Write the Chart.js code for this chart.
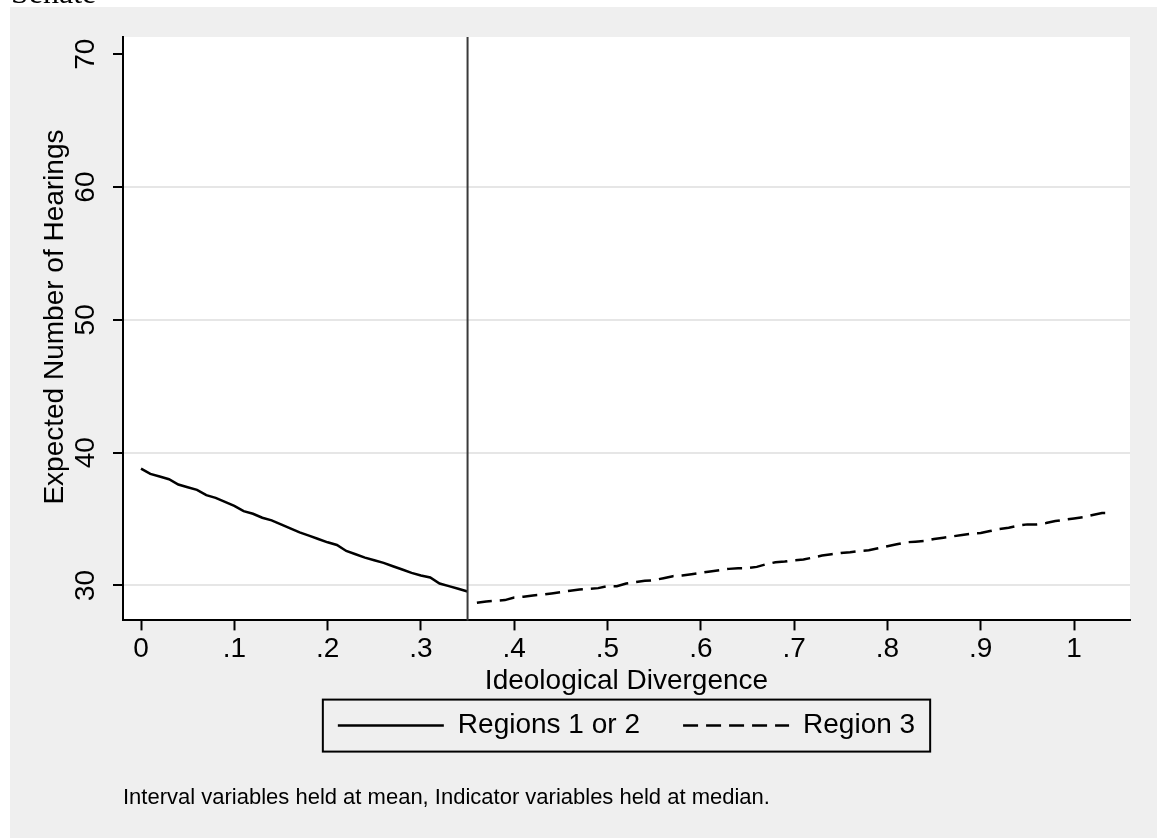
<!DOCTYPE html>
<html>
<head>
<meta charset="utf-8">
<script src="https://cdn.jsdelivr.net/npm/chart.js@4.4.0/dist/chart.umd.min.js"></script>
<style>
  html, body { margin: 0; padding: 0; background: #fff; }
  canvas { display: block; }
</style>
</head>
<body>
<canvas id="myChart" width="1157" height="838"></canvas>
<script>
// values
const seriesNames = ['Regions 1 or 2', 'Region 3'];
const xSolid = [0, .01, .02, .03, .04, .05, .06, .07, .08, .09, .10, .11, .12, .13, .14, .15, .16, .17,
  .18, .19, .20, .21, .22, .23, .24, .25, .26, .27, .28, .29, .30, .31, .32, .33, .34, .35];
const ySolid = [38.8, 38.4, 38.2, 38.0, 37.6, 37.4, 37.2, 36.8, 36.6, 36.3, 36.0, 35.6, 35.4, 35.1, 34.9, 34.6, 34.3, 34.0,
  33.75, 33.5, 33.25, 33.05, 32.6, 32.35, 32.1, 31.9, 31.7, 31.45, 31.2, 30.95, 30.75, 30.6, 30.15, 29.95, 29.75, 29.55];
const xDash = [.36, .37, .38, .39, .40, .41, .42, .43, .44, .45, .46, .47, .48, .49, .50, .51, .52, .53, .54, .55,
  .56, .57, .58, .59, .60, .61, .62, .63, .64, .65, .66, .67, .68, .69, .70, .71, .72, .73, .74, .75, .76, .77,
  .78, .79, .80, .81, .82, .83, .84, .85, .86, .87, .88, .89, .90, .91, .92, .93, .94, .95, .96, .97, .98, .99,
  1.00, 1.01, 1.02, 1.03, 1.04];
const yDash = [28.7, 28.8, 28.85, 28.9, 29.1, 29.15, 29.25, 29.3, 29.4, 29.5, 29.6, 29.7, 29.75, 29.8, 29.95, 29.95, 30.15, 30.25, 30.35, 30.4,
  30.55, 30.7, 30.75, 30.85, 30.95, 31.05, 31.15, 31.25, 31.3, 31.3, 31.4, 31.6, 31.75, 31.8, 31.9, 31.95, 32.1, 32.25, 32.35, 32.45, 32.5, 32.6,
  32.65, 32.8, 32.95, 33.1, 33.25, 33.3, 33.35, 33.5, 33.6, 33.7, 33.8, 33.9, 33.95, 34.1, 34.25, 34.35, 34.5, 34.6, 34.6, 34.7, 34.85, 34.95,
  35.05, 35.15, 35.3, 35.45, 35.45];
const cutoff = 0.35;
const xRange = [-0.0193, 1.06];
const yRange = [27.37, 71.3];
const headerText = 'Senate';
const noteText = 'Interval variables held at mean, Indicator variables held at median.';

const FONT = '"Liberation Sans", Arial, Helvetica, sans-serif';
Chart.defaults.color = '#000';
Chart.defaults.font.family = FONT;

const pts = (xs, ys) => xs.map((x, i) => ({x: x, y: ys[i]}));

// gray page, white plot region, cut-off header
const background = {
  id: 'background',
  beforeDraw(chart) {
    const {ctx, chartArea: a} = chart;
    ctx.save();
    ctx.fillStyle = '#ffffff';
    ctx.fillRect(0, 0, chart.width, chart.height);
    ctx.fillStyle = '#efefef';
    ctx.fillRect(10, 7, chart.width - 10, chart.height - 7);
    ctx.fillStyle = '#ffffff';
    ctx.fillRect(a.left, a.top, a.right - a.left, a.bottom - a.top);
    ctx.fillStyle = '#000';
    ctx.font = '32px "Liberation Serif", "DejaVu Serif", serif';
    ctx.textBaseline = 'alphabetic';
    ctx.fillText(headerText, 11, 3);
    ctx.restore();
  }
};

const cutLine = {
  id: 'cutLine',
  afterDatasetsDraw(chart) {
    const {ctx, chartArea: a} = chart;
    const px = chart.scales.x.getPixelForValue(cutoff);
    ctx.save();
    ctx.strokeStyle = '#3a3a3a';
    ctx.lineWidth = 2;
    ctx.beginPath();
    ctx.moveTo(px, a.top);
    ctx.lineTo(px, a.bottom);
    ctx.stroke();
    ctx.restore();
  }
};

const legendFrame = {
  id: 'legendFrame',
  afterDraw(chart) {
    const hb = chart.legend.legendHitBoxes;
    if (!hb || !hb.length) return;
    const first = hb[0], last = hb[hb.length - 1];
    const left = first.left - 15, right = last.left + last.width + 15;
    const top = first.top - 12, bottom = first.top + first.height + 12;
    const ctx = chart.ctx;
    ctx.save();
    ctx.strokeStyle = '#000';
    ctx.lineWidth = 2;
    ctx.strokeRect(left, top, right - left, bottom - top);
    ctx.restore();
  }
};

const ctx = document.getElementById('myChart');
new Chart(ctx, {
  type: 'scatter',
  data: {
    datasets: [{
      label: seriesNames[0],
      data: pts(xSolid, ySolid),
      showLine: true,
      borderColor: '#000',
      borderWidth: 2.5,
      pointRadius: 0,
      tension: 0
    }, {
      label: seriesNames[1],
      data: pts(xDash, yDash),
      showLine: true,
      borderColor: '#000',
      borderWidth: 2.5,
      borderDash: [15, 8],
      pointRadius: 0,
      tension: 0
    }]
  },
  options: {
    responsive: false,
    animation: false,
    layout: { padding: { left: 10, top: 37, right: 27, bottom: 27 } },
    plugins: {
      tooltip: { enabled: false },
      legend: {
        position: 'bottom',
        fullSize: false,
        labels: {
          usePointStyle: true,
          pointStyleWidth: 106,
          padding: 12,
          font: { size: 28 },
          color: '#000',
          generateLabels(chart) {
            return chart.data.datasets.map((ds, i) => ({
              // extra trailing room separates the two keys
              text: i === 0 ? ds.label + '    ' : ds.label,
              datasetIndex: i,
              pointStyle: 'line',
              strokeStyle: '#000',
              fillStyle: '#000',
              lineWidth: 2.5,
              lineDash: i === 1 ? [15, 8] : [],
              hidden: false
            }));
          }
        }
      },
      subtitle: {
        display: true,
        position: 'bottom',
        align: 'start',
        fullSize: false,
        text: noteText,
        color: '#000',
        font: { size: 22, weight: 'normal' },
        padding: { top: 35, bottom: 0 }
      }
    },
    scales: {
      x: {
        type: 'linear',
        min: xRange[0],
        max: xRange[1],
        border: { color: '#000', width: 2 },
        grid: { drawOnChartArea: false, tickLength: 10, tickColor: '#000', tickWidth: 2 },
        ticks: {
          stepSize: 0.1,
          includeBounds: false,
          padding: 2,
          font: { size: 28 },
          color: '#000',
          maxRotation: 0,
          callback: v => (Math.abs(v) < 1e-9 ? '0' : Math.abs(v - 1) < 1e-9 ? '1' : v.toFixed(1).replace(/^0/, ''))
        },
        title: {
          display: true,
          text: 'Ideological Divergence',
          font: { size: 28 },
          color: '#000',
          padding: { top: -4, bottom: 2 }
        }
      },
      y: {
        type: 'linear',
        min: yRange[0],
        max: yRange[1],
        afterFit(scale) { scale.width = 113; },
        border: { color: '#000', width: 2 },
        grid: {
          color: c => (c.tick && c.tick.value === 70 ? 'rgba(0,0,0,0)' : '#e6e6e6'),
          lineWidth: 2,
          tickLength: 10,
          tickColor: '#000',
          tickWidth: 2
        },
        ticks: {
          stepSize: 10,
          includeBounds: false,
          minRotation: 90,
          maxRotation: 90,
          crossAlign: 'center',
          padding: 11,
          font: { size: 28 },
          color: '#000'
        },
        title: {
          display: true,
          // leading room nudges the title a little above the axis centre
          text: '   Expected Number of Hearings',
          font: { size: 28 },
          color: '#000',
          padding: { top: 28, bottom: 0 }
        }
      }
    }
  },
  plugins: [background, cutLine, legendFrame]
});
</script>
</body>
</html>
